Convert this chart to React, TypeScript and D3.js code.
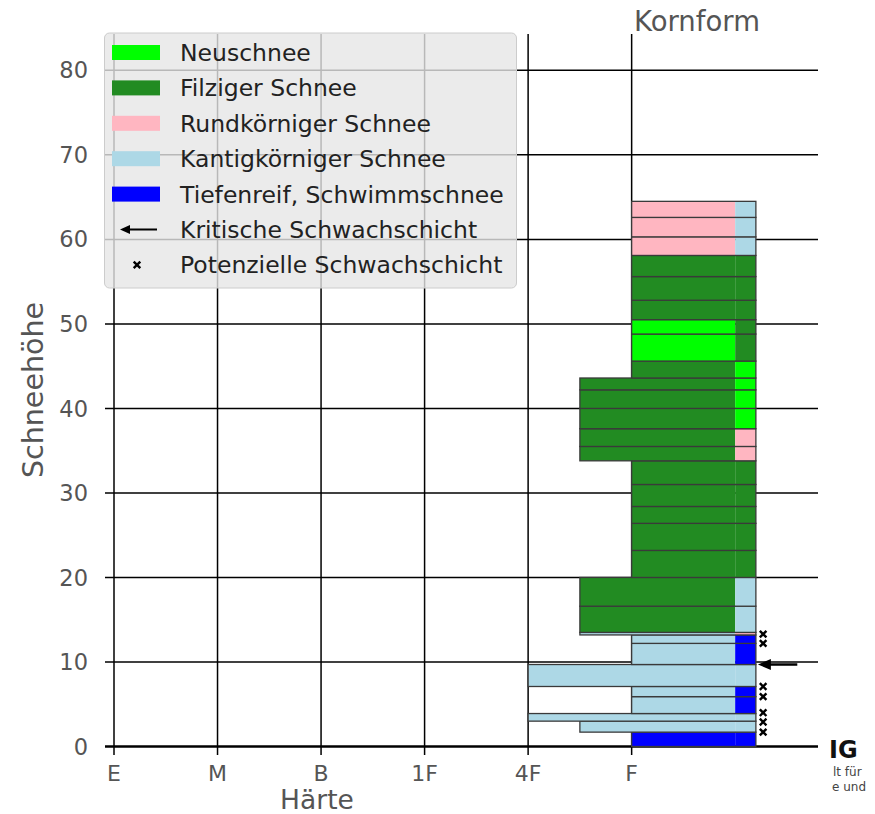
import React from "react";
import * as d3 from "d3";

const hardnessLabels = ["E", "M", "B", "1F", "4F", "F"];
const grainCodes = ["NS", "FI", "RK", "KK", "TR"];
const grainNames = [
  "Neuschnee",
  "Filziger Schnee",
  "Rundkörniger Schnee",
  "Kantigkörniger Schnee",
  "Tiefenreif, Schwimmschnee",
];
const grainColors = ["#00ff00", "#228b22", "#ffb6c1", "#add8e6", "#0000ff"];

const layerBottom = [0, 1.7, 3.0, 3.9, 5.9, 7.1, 9.7, 12.2, 13.2, 13.5, 16.6, 20.0, 23.2, 26.4, 28.4, 31.0, 33.8, 35.5, 37.6, 40.0, 42.2, 43.6, 45.6, 48.8, 50.5, 52.8, 55.6, 58.1, 60.3, 62.6];
const layerTop = [1.7, 3.0, 3.9, 5.9, 7.1, 9.7, 12.2, 13.2, 13.5, 16.6, 20.0, 23.2, 26.4, 28.4, 31.0, 33.8, 35.5, 37.6, 40.0, 42.2, 43.6, 45.6, 48.8, 50.5, 52.8, 55.6, 58.1, 60.3, 62.6, 64.5];
const layerHardness = [5, 4.5, 4, 5, 5, 4, 5, 5, 4.5, 4.5, 4.5, 5, 5, 5, 5, 5, 4.5, 4.5, 4.5, 4.5, 4.5, 5, 5, 5, 5, 5, 5, 5, 5, 5];
const layerPrimary = ["TR", "KK", "KK", "KK", "KK", "KK", "KK", "KK", "KK", "FI", "FI", "FI", "FI", "FI", "FI", "FI", "FI", "FI", "FI", "FI", "FI", "FI", "NS", "NS", "FI", "FI", "FI", "RK", "RK", "RK"];
const layerSecondary = ["TR", "KK", "KK", "TR", "TR", "KK", "TR", "TR", "RK", "KK", "KK", "FI", "FI", "FI", "FI", "FI", "RK", "RK", "NS", "NS", "NS", "NS", "FI", "FI", "FI", "FI", "FI", "KK", "KK", "KK"];

const criticalLayers = [9.7];
const potentialLayers = [13.3, 12.2, 7.1, 5.9, 4.0, 2.9, 1.7];
const yTicks = [0, 10, 20, 30, 40, 50, 60, 70, 80];

const W = 875;
const H = 814;
const FONT = "DejaVu Sans, sans-serif";

export default function App() {
  const x = d3.scaleLinear().domain([0, 6.8]).range([114, 818]);
  const y = d3.scaleLinear().domain([0, 84.3]).range([746.5, 34]);
  const colorOf = (c: string) => grainColors[grainCodes.indexOf(c)];
  const profileRight = 6.2;
  const secondaryLeft = 6.0;
  const markerX = 6.27;

  const legendY = (i: number) => 52.5 + i * 35.4;

  const cross = (cx: number, cy: number, s: number, key: string) => (
    <path
      key={key}
      d={`M${cx - s},${cy - s}L${cx + s},${cy + s}M${cx - s},${cy + s}L${cx + s},${cy - s}`}
      stroke="#000"
      strokeWidth={2.4}
    />
  );

  return (
    <svg
      width={W}
      height={H}
      style={{ position: "absolute", left: 0, top: 0, background: "#fff" }}
      fontFamily={FONT}
    >
      {/* horizontal gridlines */}
      {yTicks.map((t) => (
        <line
          key={"hg" + t}
          x1={105}
          x2={818}
          y1={y(t)}
          y2={y(t)}
          stroke="#000"
          strokeWidth={t === 0 ? 2.5 : 1.5}
        />
      ))}
      {/* vertical gridlines */}
      {hardnessLabels.map((l, i) => (
        <line
          key={"vg" + l}
          x1={x(i)}
          x2={x(i)}
          y1={34}
          y2={755}
          stroke="#000"
          strokeWidth={1.5}
        />
      ))}

      {/* layers */}
      {layerBottom.map((b, i) => {
        const t = layerTop[i];
        const x0 = x(layerHardness[i]);
        const xs = x(secondaryLeft);
        const x1 = x(profileRight);
        return (
          <g key={"layer" + i}>
            <rect x={x0} y={y(t)} width={xs - x0} height={y(b) - y(t)} fill={colorOf(layerPrimary[i])} />
            <rect x={xs} y={y(t)} width={x1 - xs} height={y(b) - y(t)} fill={colorOf(layerSecondary[i])} />
            <rect
              x={x0}
              y={y(t)}
              width={x1 - x0}
              height={y(b) - y(t)}
              fill="none"
              stroke="#3a3a3a"
              strokeWidth={1.3}
            />
          </g>
        );
      })}

      {/* critical weak layer arrow */}
      {criticalLayers.map((c, i) => {
        const xe = x(profileRight) + 2;
        const xt = x(6.6);
        const yy = y(c);
        return (
          <g key={"crit" + i}>
            <line x1={xe + 10} x2={xt} y1={yy} y2={yy} stroke="#000" strokeWidth={2.5} />
            <path d={`M${xe},${yy}L${xe + 13},${yy - 5.5}L${xe + 13},${yy + 5.5}Z`} fill="#000" />
          </g>
        );
      })}

      {/* potential weak layers */}
      {potentialLayers.map((p, i) => cross(x(markerX), y(p), 3.3, "pot" + i))}

      {/* y tick labels */}
      {yTicks.map((t) => (
        <text
          key={"yt" + t}
          x={88}
          y={y(t)}
          dy="0.36em"
          textAnchor="end"
          fontSize={22.5}
          fill="#555"
        >
          {t}
        </text>
      ))}
      {/* x tick labels */}
      {hardnessLabels.map((l, i) => (
        <text key={"xt" + l} x={x(i)} y={781} textAnchor="middle" fontSize={22} fill="#555">
          {l}
        </text>
      ))}

      {/* axis labels */}
      <text x={317} y={809} textAnchor="middle" fontSize={26.5} fill="#555">
        Härte
      </text>
      <text
        transform={`translate(33,390) rotate(-90)`}
        textAnchor="middle"
        dy="0.36em"
        fontSize={28.5}
        fill="#555"
      >
        Schneehöhe
      </text>
      <text x={697} y={31} textAnchor="middle" fontSize={27.5} fill="#555">
        Kornform
      </text>

      {/* legend */}
      <rect x={104.5} y={33} width={412} height={255} rx={5} fill="#e6e6e6" fillOpacity={0.8} stroke="#cccccc" strokeWidth={1} />
      {grainNames.map((n, i) => (
        <g key={"lg" + i}>
          <rect x={112} y={legendY(i) - 7.5} width={48} height={15} fill={grainColors[i]} />
          <text x={180} y={legendY(i)} dy="0.36em" fontSize={23.5} fill="#222">
            {n}
          </text>
        </g>
      ))}
      <g>
        <line x1={126} x2={157} y1={legendY(5)} y2={legendY(5)} stroke="#000" strokeWidth={2} />
        <path d={`M${120},${legendY(5)}L${130},${legendY(5) - 4.5}L${130},${legendY(5) + 4.5}Z`} fill="#000" />
        <text x={180} y={legendY(5)} dy="0.36em" fontSize={23.5} fill="#222">
          Kritische Schwachschicht
        </text>
      </g>
      <g>
        {cross(137, legendY(6), 3.3, "lgcross")}
        <text x={180} y={legendY(6)} dy="0.36em" fontSize={23.5} fill="#222">
          Potenzielle Schwachschicht
        </text>
      </g>

      {/* clipped logo remnants */}
      <text x={829} y={758} fontSize={24} fontWeight="bold" fill="#111">
        IG
      </text>
      <text x={833} y={776} fontSize={12} fill="#444">
        lt für
      </text>
      <text x={832} y={791} fontSize={12} fill="#444">
        e und
      </text>
    </svg>
  );
}
